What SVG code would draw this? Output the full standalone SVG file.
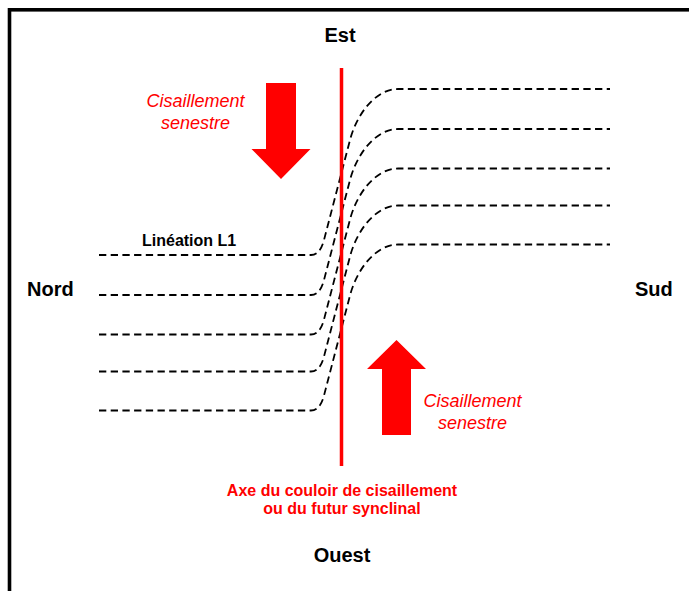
<svg xmlns="http://www.w3.org/2000/svg" width="689" height="591" viewBox="0 0 689 591">
<style>
.frame{fill:none;stroke:#000;stroke-width:3.6}
.lin{fill:none;stroke:#000;stroke-width:1.8;stroke-dasharray:7.3 4.4}
.axe{stroke:#FF0000;stroke-width:3.5}
.arrow{fill:#FF0000}
.lbl{font-family:"Liberation Sans",Arial,sans-serif;font-weight:bold;font-size:20px;fill:#000}
.lin-lbl{font-family:"Liberation Sans",Arial,sans-serif;font-weight:bold;font-size:16px;fill:#000}
.shear{font-family:"Liberation Sans",Arial,sans-serif;font-style:italic;font-size:18px;fill:#FF0000;text-anchor:middle}
.axe-lbl{font-family:"Liberation Sans",Arial,sans-serif;font-weight:bold;font-size:16px;fill:#FF0000;text-anchor:middle}
</style>
<rect class="frame" x="9.5" y="9.8" width="720" height="620"/>
<g id="connectors">
<path class="lin" d="M99,255 H311 c6,0 10.4,-5 13,-15 l26,-100 c6.5,-25 25,-51 48,-51 H610"/>
<path class="lin" d="M99,295 H311 c6,0 10.4,-5 13,-15 l26,-100 c6.5,-25 25,-51 48,-51 H610"/>
<path class="lin" d="M99,334.5 H311 c6,0 10.4,-5 13,-15 l26,-100 c6.5,-25 25,-51 48,-51 H610"/>
<path class="lin" d="M99,371.5 H311 c6,0 10.4,-5 13,-15 l26,-100 c6.5,-25 25,-51 48,-51 H610"/>
<path class="lin" d="M99,410.5 H311 c6,0 10.4,-5 13,-15 l26,-100 c6.5,-25 25,-51 48,-51 H610"/>
</g>
<g id="axe">
<line class="axe" x1="341.5" y1="68" x2="341.5" y2="466"/>
</g>
<g id="arrow-down">
<polygon class="arrow" points="266,83 296,83 296,149 310.5,149 281,179 251.5,149 266,149"/>
</g>
<g id="arrow-up">
<polygon class="arrow" points="382,435 411,435 411,369 426,369 396.5,340 367,369 382,369"/>
</g>
<g id="label-est"><text class="lbl" x="340" y="42" text-anchor="middle">Est</text></g>
<g id="label-ouest"><text class="lbl" x="342" y="562" text-anchor="middle">Ouest</text></g>
<g id="label-nord"><text class="lbl" x="27" y="296">Nord</text></g>
<g id="label-sud"><text class="lbl" x="635" y="296">Sud</text></g>
<g id="label-lineation"><text class="lin-lbl" x="142" y="246">Linéation L1</text></g>
<g id="label-shear-top">
<text class="shear" x="195.5" y="107">Cisaillement</text>
<text class="shear" x="195.5" y="128.5">senestre</text>
</g>
<g id="label-shear-bottom">
<text class="shear" x="472.5" y="407">Cisaillement</text>
<text class="shear" x="472.5" y="429">senestre</text>
</g>
<g id="label-axe">
<text class="axe-lbl" x="342" y="496">Axe du couloir de cisaillement</text>
<text class="axe-lbl" x="342" y="514">ou du futur synclinal</text>
</g>
</svg>
